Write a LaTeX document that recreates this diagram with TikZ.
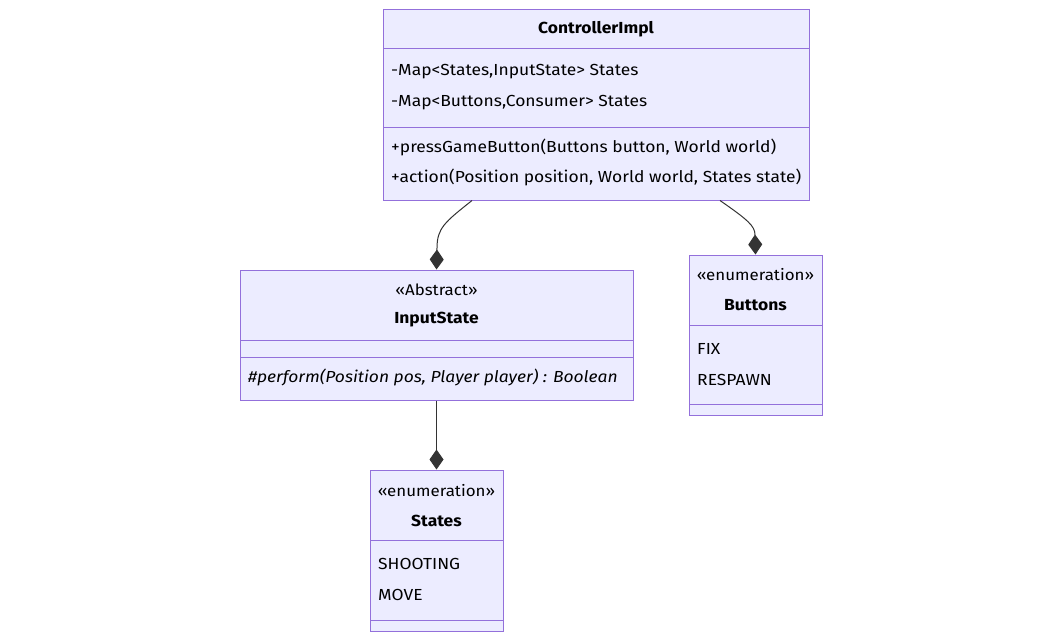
\documentclass[tikz,border=0pt]{standalone}
\usepackage{fontspec}
\setmainfont[FakeStretch=1.09]{Fira Sans}
\usetikzlibrary{arrows.meta}
\definecolor{boxfill}{HTML}{ECECFF}
\definecolor{boxline}{HTML}{9370DB}
\definecolor{txt}{HTML}{333333}
\tikzset{
  cls/.style={draw=boxline, fill=boxfill, line width=1pt, inner sep=0pt},
  sep/.style={draw=boxline, line width=1pt},
  lbl/.style={inner sep=0pt, yshift=-1pt, text=black, font=\fontsize{16}{19}\selectfont},
  ttl/.style={lbl, font=\fontsize{16}{19}\selectfont\bfseries},
  stereo/.style={lbl, font=\fontsize{15.5}{19}\selectfont},
  mem/.style={lbl, anchor=west},
  comp/.style={draw=txt, line width=1pt, -{Diamond[length=20pt,width=14pt,fill=txt]}},
}
\begin{document}
\begin{tikzpicture}[x=1pt,y=-1pt]
\useasboundingbox (0,0) rectangle (1063,640);
% ControllerImpl
\node[cls, minimum width=426pt, minimum height=191pt] (ctrl) at (596,104.5) {};
\draw[sep] (383,48) -- (809,48);
\draw[sep] (383,127) -- (809,127);
\node[ttl] (ctrlt) at (596,28) {ControllerImpl};
\node[mem] (ca1) at (391,71) {-Map<States,InputState> States};
\node[mem] (ca2) at (391,102) {-Map<Buttons,Consumer> States};
\node[mem] (cm1) at (391,146) {+pressGameButton(Buttons button, World world)};
\node[mem] (cm2) at (391,176) {+action(Position position, World world, States state)};
% InputState
\node[cls, minimum width=393pt, minimum height=130pt] (inp) at (436.5,335) {};
\draw[sep] (240,340) -- (633,340);
\draw[sep] (240,357) -- (633,357);
\node[stereo] (inps) at (436.5,289) {«Abstract»};
\node[ttl] (inpt) at (436.5,319) {InputState};
\node[mem, font=\fontsize{16}{19}\selectfont\itshape] (im1) at (248,376) {\#perform(Position pos, Player player) : Boolean};
% Buttons
\node[cls, minimum width=133pt, minimum height=160pt] (btn) at (755.5,335) {};
\draw[sep] (689,325) -- (822,325);
\draw[sep] (689,404) -- (822,404);
\node[stereo] (btns) at (755.5,274) {«enumeration»};
\node[ttl] (btnt) at (755.5,304) {Buttons};
\node[mem] (b1) at (697,348) {FIX};
\node[mem] (b2) at (697,379) {RESPAWN};
% States
\node[cls, minimum width=133pt, minimum height=161pt] (st) at (436.5,550.5) {};
\draw[sep] (370,540) -- (503,540);
\draw[sep] (370,620) -- (503,620);
\node[stereo] (sts) at (436.5,490) {«enumeration»};
\node[ttl] (stt) at (436.5,520) {States};
\node[mem] (s1) at (378,563) {SHOOTING};
\node[mem] (s2) at (378,594) {MOVE};
% connectors
\draw[comp] ([xshift=-124pt]ctrl.south) .. controls (445,222) and (437,228) .. (437,248) -- (inp.north);
\draw[comp] ([xshift=124pt]ctrl.south) .. controls (748,220) and (755,226) .. (755,235) -- (btn.north);
\draw[comp] (inp.south) -- (st.north);
\end{tikzpicture}
\end{document}
